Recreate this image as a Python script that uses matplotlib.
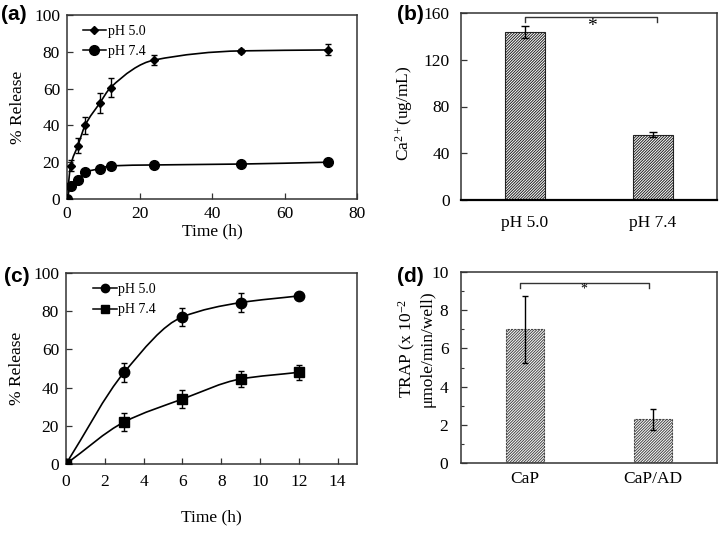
import numpy as np
import matplotlib
matplotlib.use("Agg")
import matplotlib.pyplot as plt
from matplotlib.path import Path
from matplotlib.patches import PathPatch

# ---------------- data ----------------
# (a)
a_time = [0, 1, 3, 5, 9, 12, 24, 48, 72]
a_ph50 = [0, 18, 29, 40, 52, 60.5, 75.5, 80.5, 81]
a_ph50_err = [0, 3, 4, 4.5, 5.5, 5, 2.5, 1, 3]
a_ph74 = [0, 7, 10.5, 14.5, 16.5, 18, 18.5, 19, 20]
a_ph74_err = [0, 0.5, 0.5, 0.5, 0.5, 0.5, 0.5, 0.5, 0.5]
# (b)
b_cats = ["pH 5.0", "pH 7.4"]
b_vals = [144, 56]
b_err = [5, 2]
# (c)
c_time = [0, 3, 6, 9, 12]
c_ph50 = [0, 48, 77, 84.5, 88]
c_ph50_err = [0, 5, 4.5, 5, 1]
c_ph74 = [0, 22, 34, 44.5, 48]
c_ph74_err = [0, 4.5, 4.5, 4, 4]
# (d)
d_cats = ["CaP", "CaP/AD"]
d_vals = [7.0, 2.3]
d_err = [1.75, 0.55]

SERIF = "Liberation Serif"
plt.rcParams["font.family"] = SERIF
plt.rcParams["mathtext.fontset"] = "custom"
plt.rcParams["mathtext.rm"] = SERIF
plt.rcParams["mathtext.it"] = SERIF + ":italic"
plt.rcParams["mathtext.bf"] = SERIF + ":bold"
plt.rcParams["mathtext.default"] = "rm"
plt.rcParams["axes.unicode_minus"] = False
plt.rcParams["hatch.linewidth"] = 0.7
plt.rcParams["hatch.color"] = "#222222"
FS = 12.5
SPINE = "#333333"

fig = plt.figure(figsize=(7.24, 5.36), dpi=100)
W, H = 724.0, 536.0


def add_ax(l, r, t, b):
    return fig.add_axes([l / W, (H - b) / H, (r - l) / W, (b - t) / H])


def style(ax, pad=5):
    for s in ax.spines.values():
        s.set_color(SPINE)
        s.set_linewidth(1.1)
    ax.tick_params(direction="in", length=4, width=0.9, color=SPINE,
                   labelsize=FS, pad=pad)
    ax.tick_params(which="minor", direction="in", length=2.5, width=0.8, color=SPINE)


def smooth_line(ax, x, y, lw=1.2):
    x = np.asarray(x, float)
    y = np.asarray(y, float)
    h = np.diff(x)
    d = np.diff(y) / h
    n = len(x)
    m = np.zeros(n)
    m[0] = d[0]
    m[-1] = d[-1]
    for i in range(1, n - 1):
        if d[i - 1] * d[i] <= 0:
            m[i] = 0
        else:
            w1 = 2 * h[i] + h[i - 1]
            w2 = h[i] + 2 * h[i - 1]
            m[i] = (w1 + w2) / (w1 / d[i - 1] + w2 / d[i])
    verts = [(x[0], y[0])]
    codes = [Path.MOVETO]
    for i in range(n - 1):
        verts += [(x[i] + h[i] / 3, y[i] + m[i] * h[i] / 3),
                  (x[i + 1] - h[i] / 3, y[i + 1] - m[i + 1] * h[i] / 3),
                  (x[i + 1], y[i + 1])]
        codes += [Path.CURVE4] * 3
    ax.add_patch(PathPatch(Path(verts, codes), fill=False, edgecolor="black",
                           linewidth=lw, transform=ax.transData, zorder=2))


def panel_label(x, y, s):
    fig.text(x / W, 1 - y / H, s, fontsize=15, fontweight="bold",
             family="Liberation Sans", ha="left", va="center")


# ---------------- (a) ----------------
ax = add_ax(67, 357, 15, 199)
style(ax)
smooth_line(ax, a_time, a_ph50)
smooth_line(ax, a_time, a_ph74)
ax.errorbar(a_time, a_ph50, yerr=a_ph50_err, fmt="D", ms=4.5, color="black",
            ecolor="black", elinewidth=1, capsize=2.5, capthick=1, zorder=3)
ax.errorbar(a_time, a_ph74, yerr=a_ph74_err, fmt="o", ms=7, color="black",
            ecolor="black", elinewidth=1, capsize=2.5, capthick=1, zorder=3)
ax.plot([], [], "-D", color="black", ms=4.5, lw=1.1, label="pH 5.0")
ax.plot([], [], "-o", color="black", ms=7, lw=1.1, label="pH 7.4")
ax.legend(loc="upper left", frameon=False, fontsize=10, handlelength=1.7,
          handletextpad=0.1, borderaxespad=0.3, labelspacing=0.55,
          bbox_to_anchor=(0.02, 1.0))
ax.set_xlim(0, 80)
ax.set_ylim(0, 100)
ax.set_xticks([0, 20, 40, 60, 80])
ax.set_yticks([0, 20, 40, 60, 80, 100])
ax.set_xlabel("Time (h)", fontsize=FS, labelpad=1)
ax.set_ylabel("% Release", fontsize=FS, labelpad=6)

# ---------------- (b) ----------------
ax = add_ax(461, 717, 13, 200)
style(ax, pad=8)
xb = np.arange(len(b_cats))
ax.bar(xb, b_vals, width=0.31, color="white", edgecolor="#222222",
       linewidth=0.8, hatch="////////////", zorder=2)
ax.errorbar(xb, b_vals, yerr=b_err, fmt="none", ecolor="black",
            elinewidth=1, capsize=3, capthick=1, zorder=3)
ax.plot([0, 0, 1.03, 1.03], [152.5, 156.5, 156.5, 152.5], color="#333333", lw=1)
ax.text(0.52, 156, "*", ha="center", va="top", fontsize=14)
ax.set_xlim(-0.5, 1.5)
ax.set_ylim(0, 160)
ax.set_yticks([0, 40, 80, 120, 160])
ax.set_xticks(xb)
ax.set_xticklabels(b_cats)
ax.tick_params(axis="x", length=0, pad=11)
ax.spines["bottom"].set_linewidth(1.6)
ax.spines["bottom"].set_color("black")
ax.set_ylabel("Ca$^{2+}$(ug/mL)", fontsize=FS)
ax.yaxis.set_label_coords(-0.18, 0.465)

# ---------------- (c) ----------------
ax = add_ax(66, 357, 273, 464)
style(ax)
smooth_line(ax, c_time, c_ph50)
smooth_line(ax, c_time, c_ph74)
ax.errorbar(c_time, c_ph50, yerr=c_ph50_err, fmt="o", ms=7.5, color="black",
            ecolor="black", elinewidth=1, capsize=2.5, capthick=1, zorder=3)
ax.errorbar(c_time, c_ph74, yerr=c_ph74_err, fmt="s", ms=7, color="black",
            ecolor="black", elinewidth=1, capsize=2.5, capthick=1, zorder=3)
ax.plot([], [], "-o", color="black", ms=6, lw=1.1, label="pH 5.0")
ax.plot([], [], "-s", color="black", ms=6, lw=1.1, label="pH 7.4")
ax.legend(loc="upper left", frameon=False, fontsize=10, handlelength=1.7,
          handletextpad=0.1, borderaxespad=0.3, labelspacing=0.55,
          bbox_to_anchor=(0.06, 1.0))
ax.set_xlim(0, 15)
ax.set_ylim(0, 100)
ax.set_xticks([0, 2, 4, 6, 8, 10, 12, 14])
ax.set_yticks([0, 20, 40, 60, 80, 100])
ax.set_xlabel("Time (h)", fontsize=FS, labelpad=14)
ax.set_ylabel("% Release", fontsize=FS, labelpad=6)
ax.tick_params(axis="x", pad=7)

# ---------------- (d) ----------------
ax = add_ax(461, 717, 272, 463)
style(ax, pad=9)
xd = np.arange(len(d_cats))
ax.bar(xd, d_vals, width=0.29, color="white", edgecolor="#444444",
       linewidth=0.8, hatch="////////////", zorder=2, linestyle=(0, (2, 1)))
ax.errorbar(xd, d_vals, yerr=d_err, fmt="none", ecolor="black",
            elinewidth=1, capsize=2.5, capthick=1, zorder=3)
ax.plot([-0.04, -0.04, 0.97, 0.97], [9.17, 9.43, 9.43, 9.17], color="#333333", lw=1)
ax.text(0.46, 9.43, "*", ha="center", va="top", fontsize=10)
ax.set_xlim(-0.5, 1.5)
ax.set_ylim(0, 10)
ax.set_yticks([0, 2, 4, 6, 8, 10])
ax.set_yticks([1, 3, 5, 7, 9], minor=True)
ax.set_xticks(xd)
ax.set_xticklabels(d_cats)
ax.tick_params(axis="x", length=0, pad=6)
ax.set_ylabel("TRAP (x 10$^{-2}$\n\u03bcmole/min/well)", fontsize=FS,
              linespacing=1.15)
ax.yaxis.set_label_coords(-0.10, 0.60)

panel_label(1, 15, "(a)")
panel_label(397, 15, "(b)")
panel_label(4, 276, "(c)")
panel_label(397, 276, "(d)")

fig.savefig("out.png", dpi=100)
